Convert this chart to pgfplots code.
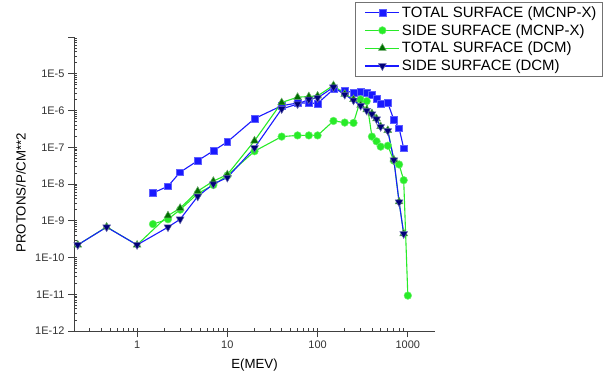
\documentclass[border=0pt]{standalone}
\usepackage{fontspec}
\setmainfont{Liberation Sans}
\usepackage{pgfplots}
\pgfplotsset{compat=1.18}
\definecolor{cblue}{RGB}{25,25,255}
\definecolor{cgreen}{RGB}{40,235,40}
\definecolor{dgreen}{RGB}{0,110,0}
\definecolor{navy}{RGB}{0,0,120}
\begin{document}
\begin{tikzpicture}
\path[use as bounding box] (0,0) rectangle (605bp,379bp);
\begin{axis}[
  at={(74bp,48bp)}, anchor=south west, scale only axis,
  width=361bp, height=294bp,
  xmode=log, ymode=log,
  xmin=0.2, xmax=2000, ymin=1e-12, ymax=1e-4,
  axis x line*=bottom, axis y line*=left,
  axis line style={-, line width=0.8bp, black!75},
  tick style={black!75, line width=0.8bp},
  tick align=outside,
  major tick length=6bp, minor tick length=3bp,
  minor x tick style={yshift=3bp},
  minor y tick style={xshift=3bp},
  yticklabel={\pgfmathtruncatemacro\e{round(\tick/ln(10))}\ifnum\e<-4 1E\e\fi},
  xticklabel={\pgfmathtruncatemacro\e{round(\tick/ln(10))}\ifcase\e\relax 1\or 10\or 100\or 1000\fi},
  ticklabel style={font=\fontsize{11}{13}\selectfont, black!80},
  xlabel={E(MEV)}, ylabel={PROTONS/P/CM**2},
  label style={font=\fontsize{13.3}{15}\selectfont},
  xlabel style={at={(axis description cs:0.5,-0.116)}, anchor=center},
  ylabel style={at={(axis description cs:-0.147,0.47)}, anchor=center, rotate=0},
  legend style={at={(1.465,1.119)}, anchor=north east, draw=black!55, line width=0.8bp,
     font=\fontsize{15}{17}\selectfont, cells={anchor=west}, row sep=1.5bp,
     inner xsep=4bp, inner ysep=2bp},
  legend image code/.code={\path[draw=none,fill=none] (-6bp,0bp) -- (34bp,0bp);\draw[mark repeat=2,mark phase=2,#1] plot coordinates {(0bp,0bp) (17bp,0bp) (34bp,0bp)};},
  every axis plot/.append style={line width=1.1bp},
]
\addplot[cblue, mark=square*, mark size=3.4bp, mark options={fill=cblue, draw=cblue!70!white, line width=0.5bp}] coordinates {
(1.5,5.7e-9) (2.2,8.7e-9) (3,2.1e-8) (4.7,4.3e-8) (7,8e-8) (10,1.4e-7) (20,6e-7)
(40,1.35e-6) (60,1.6e-6) (80,1.6e-6) (100,1.55e-6) (150,3.8e-6) (200,3.4e-6)
(250,3.1e-6) (300,3.2e-6) (350,3.1e-6) (400,2.7e-6) (450,2.1e-6) (500,1.5e-6)
(600,1.6e-6) (700,5.6e-7) (800,3.3e-7) (900,9.4e-8)};
\addlegendentry{TOTAL SURFACE (MCNP-X)}
\addplot[cgreen, mark=*, mark size=3.8bp, mark options={fill=cgreen, draw=cgreen!70!white, line width=0.5bp}] coordinates {
(1.5,8.1e-10) (2.2,1.1e-9) (3,2e-9) (4.7,5.5e-9) (7,9.4e-9) (10,1.7e-8) (20,7.8e-8)
(40,1.95e-7) (60,2.1e-7) (80,2.1e-7) (100,2.1e-7) (150,5.2e-7) (200,4.7e-7)
(250,4.6e-7) (300,2e-6) (350,1.8e-6) (400,1.95e-7) (450,1.45e-7) (500,1.04e-7)
(600,1.1e-7) (700,4.3e-8) (800,3.4e-8) (900,1.27e-8) (1000,9.2e-12)};
\addlegendentry{SIDE SURFACE (MCNP-X)}
\addplot[cgreen, mark=triangle*, mark size=4.5bp, mark options={fill=dgreen, draw=dgreen!60!white, line width=0.5bp}] coordinates {
(0.22,2.2e-10) (0.46,6.8e-10) (1,2.2e-10) (2.2,1.38e-9) (3,2.2e-9) (4.7,6.4e-9)
(7,1.2e-8) (10,1.8e-8) (20,1.5e-7) (40,1.65e-6) (60,2.3e-6) (80,2.4e-6)
(100,2.5e-6) (150,4.8e-6) (200,2.8e-6) (250,2e-6) (300,1.4e-6) (350,1.05e-6)
(400,8.3e-7) (450,6e-7) (500,3.7e-7) (600,2.9e-7) (700,4.6e-8) (800,3.3e-9) (900,4.5e-10)};
\addlegendentry{TOTAL SURFACE (DCM)}
\addplot[cblue, mark=triangle*, mark size=4.5bp, mark options={rotate=180, fill=navy, draw=navy!60!white, line width=0.5bp}] coordinates {
(0.22,2.2e-10) (0.46,6.7e-10) (1,2.2e-10) (2.2,6.7e-10) (3,1.1e-9) (4.7,4.6e-9)
(7,1e-8) (10,1.5e-8) (20,9.6e-8) (40,1.1e-6) (60,1.5e-6) (80,2e-6)
(100,2.2e-6) (150,4.3e-6) (200,2.7e-6) (250,1.9e-6) (300,1.35e-6) (350,1e-6)
(400,8e-7) (450,5.8e-7) (500,3.6e-7) (600,2.8e-7) (700,4.5e-8) (800,3.2e-9) (900,4.4e-10)};
\addlegendentry{SIDE SURFACE (DCM)}
\end{axis}
\end{tikzpicture}
\end{document}
